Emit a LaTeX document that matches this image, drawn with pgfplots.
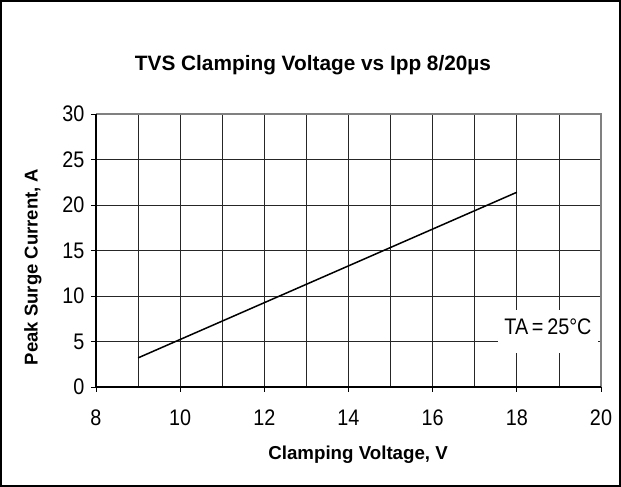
\documentclass[border=0pt]{standalone}
\usepackage{fontspec}
\setmainfont{Liberation Sans}
\newfontfamily\narrowfont[FakeStretch=0.88]{Liberation Sans}
\usepackage{pgfplots}
\pgfplotsset{compat=1.18}
\begin{document}
\begin{tikzpicture}[x=1pt,y=1pt]
\draw[line width=2pt] (1,1) rectangle (620,486);
\node[font=\bfseries\fontsize{20.8}{24}\selectfont, anchor=base] at (313,416.3) {TVS Clamping Voltage vs Ipp 8/20µs};
\begin{axis}[
  at={(96pt,100pt)}, anchor=origin,
  scale only axis, width=505pt, height=273pt,
  xmin=8, xmax=20, ymin=0, ymax=30,
  xtick={8,10,...,20}, minor xtick={9,11,...,19},
  ytick={0,5,...,30},
  grid=both,
  major grid style={black!85, line width=0.8pt},
  minor grid style={black!85, line width=0.8pt},
  axis line style={draw=none},
  tick align=outside,
  major tick length=5pt, minor tick length=0pt,
  tick style={black, line width=0.8pt},
  xtick pos=bottom, ytick pos=left,
  /pgf/number format/assume math mode=true,
  ticklabel style={font=\narrowfont\fontsize{22.5}{24}\selectfont},
  xticklabel style={yshift=-14pt},
  yticklabel style={xshift=-3pt},
  xlabel={Clamping Voltage, V},
  ylabel={Peak Surge Current, A},
  xlabel style={font=\bfseries\fontsize{18.7}{22}\selectfont, at={(axis description cs:0.519,-0.249)}, anchor=center},
  ylabel style={font=\bfseries\fontsize{18.5}{22}\selectfont, at={(axis description cs:-0.1248,0.44)}, anchor=center},
  clip=false,
  after end axis/.code={
    \fill[white] (axis cs:17.55,3.7) rectangle (axis cs:19.93,8.5);
    \node[font=\narrowfont\fontsize{22.5}{24}\selectfont, inner sep=0pt] at (axis cs:18.74,6.6) {TA\,=\,25°C};
    \draw[gray, line width=1.6pt] (rel axis cs:0,1) -- (rel axis cs:1,1) -- (rel axis cs:1,0);
    \draw[black, line width=1.6pt] (rel axis cs:0,1) -- (rel axis cs:0,0) -- (rel axis cs:1,0);
  },
]
\addplot[black, line width=1.5pt] coordinates {(9,3.2) (18,21.4)};
\end{axis}
\end{tikzpicture}
\end{document}
